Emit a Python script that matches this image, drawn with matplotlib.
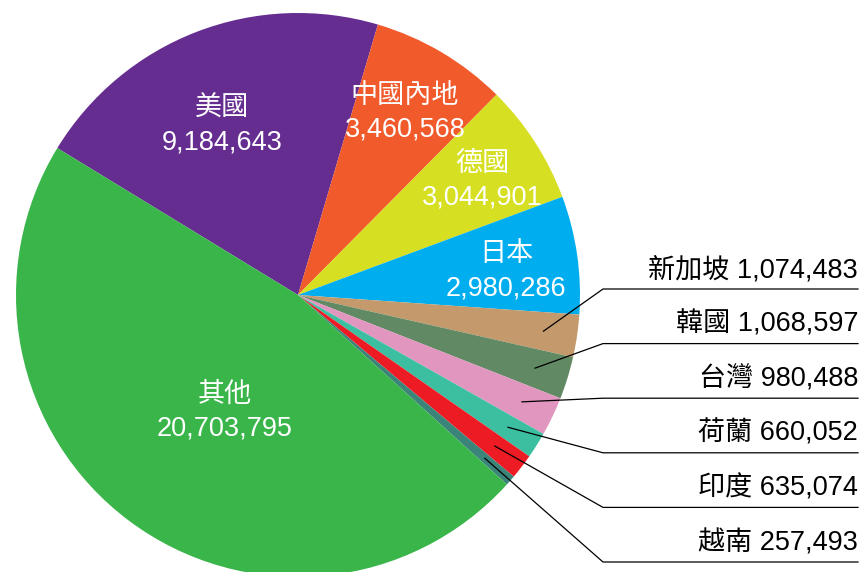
import numpy as np
import matplotlib
matplotlib.use("Agg")
import matplotlib.pyplot as plt

# data (clockwise order from the US slice)
names = ['美國', '中國內地', '德國', '日本', '新加坡', '韓國', '台灣', '荷蘭', '印度', '越南', '其他']
values = [9184643, 3460568, 3044901, 2980286, 1074483, 1068597, 980488, 660052, 635074, 257493, 20703795]
colors = ['#662D91', '#F15A2B', '#D7DF23', '#00AEEF', '#C49A6C', '#618963',
          '#E196C0', '#3BBFA0', '#ED1C24', '#3A8479', '#39B54A']
# inside label placement: (angle in degrees, fraction of radius)
inside_pos = {'美國': (114.2, 0.659), '中國內地': (59.6, 0.75), '德國': (31.9, 0.768),
              '日本': (6.45, 0.742), '其他': (237.9, 0.488)}

fonts = ['Liberation Sans', 'Noto Sans CJK TC', 'DejaVu Sans']
plt.rcParams['font.family'] = fonts

W, H = 864, 572
fig = plt.figure(figsize=(W / 100, H / 100), dpi=100)
ax = fig.add_axes([0, 0, 1, 1])

cx, cy, R = 298, H - 295, 282
start = 148.6
wedges, _ = ax.pie(values, colors=colors, startangle=start, counterclock=False,
                   center=(cx, cy), radius=R, frame=True,
                   wedgeprops=dict(linewidth=0))
ax.set_xlim(0, W)
ax.set_ylim(0, H)
ax.set_aspect('equal')
ax.axis('off')

total = float(sum(values))
frac = np.array(values) / total
ends = start - np.cumsum(frac) * 360
mids = ends + frac * 180

fs = 19.5
# inside labels
for i, n in enumerate(names):
    if n not in inside_pos:
        continue
    ang, d = inside_pos[n]
    a = np.deg2rad(ang)
    x, y = cx + d * R * np.cos(a), cy + d * R * np.sin(a)
    ax.text(x, y + 17, n, color='white', fontsize=fs, ha='center', va='center')
    ax.text(x, y - 17, f'{values[i]:,}', color='white', fontsize=fs, ha='center', va='center')

# outside labels with leader lines
outside = [i for i, n in enumerate(names) if n not in inside_pos]
label_x = 858
elbow_x = 603
for k, i in enumerate(outside):
    ty = H - (270 + 54.6 * k)
    ly = ty - 19
    a = np.deg2rad(mids[i])
    r = 0.88 * R
    sx, sy = cx + r * np.cos(a), cy + r * np.sin(a)
    ax.plot([sx, elbow_x, label_x], [sy, ly, ly], color='black', lw=0.9)
    ax.text(label_x, ty, f'{names[i]} {values[i]:,}', color='black', fontsize=fs,
            ha='right', va='center')

fig.savefig('out.png', dpi=100)
